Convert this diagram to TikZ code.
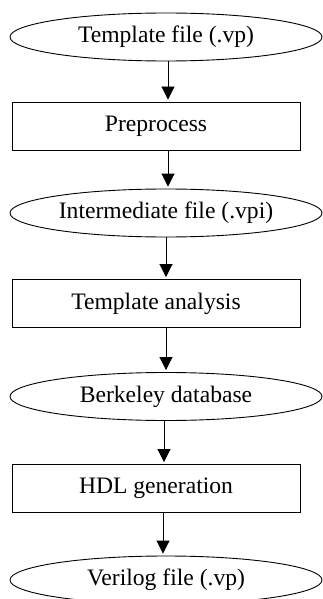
\documentclass[tikz,border=0pt]{standalone}
\usepackage{fontspec}
\setmainfont{Liberation Serif}
\usetikzlibrary{shapes.geometric,arrows.meta}
\begin{document}
\begin{tikzpicture}[x=1pt,y=-1pt,
  lbl/.style={font=\fontsize{23.6}{26}\selectfont},
  ell/.style={lbl,draw,ellipse,minimum width=312pt,minimum height=48pt,inner sep=0pt,line width=0.9pt},
  proc/.style={lbl,draw,rectangle,minimum width=288pt,minimum height=48pt,inner sep=0pt,line width=0.9pt},
  arr/.style={-{Triangle[length=13pt,width=13pt]},line width=0.9pt,shorten >=2pt}]
\useasboundingbox (0,0) rectangle (323,599);
\node[ell]  (e1) at (166,37)    {Template file (.vp)};
\node[proc] (b1) at (156,126)   {Preprocess};
\node[ell]  (e2) at (166,213)   {Intermediate file (.vpi)};
\node[proc] (b2) at (156,303.5) {Template analysis};
\node[ell]  (e3) at (166,396.5) {Berkeley database};
\node[proc] (b3) at (156,488.5) {HDL generation};
\node[ell]  (e4) at (166,580)   {Verilog file (.vp)};
\draw[arr] ([xshift=2pt]e1.south) -- ([xshift=12pt]b1.north);
\draw[arr] ([xshift=12pt]b1.south) -- ([xshift=2pt]e2.north);
\draw[arr] ([xshift=0pt]e2.south) -- ([xshift=10pt]b2.north);
\draw[arr] ([xshift=10pt]b2.south) -- ([xshift=0pt]e3.north);
\draw[arr] ([xshift=-2pt]e3.south) -- ([xshift=8pt]b3.north);
\draw[arr] ([xshift=7pt]b3.south) -- ([xshift=-3pt]e4.north);
\end{tikzpicture}
\end{document}
